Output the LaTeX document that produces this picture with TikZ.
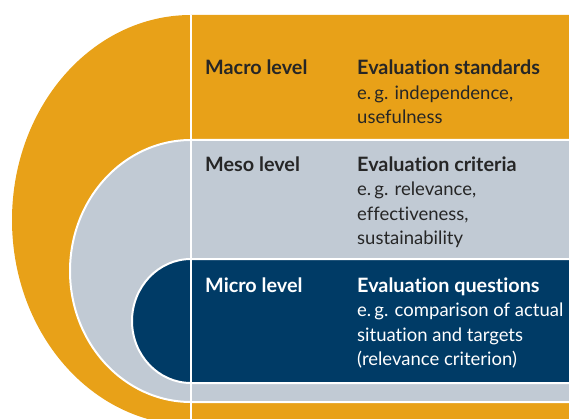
\documentclass[tikz,border=0pt]{standalone}
\usepackage{fontspec}
\setmainfont[Ligatures=NoCommon]{Lato}
\begin{document}
\begin{tikzpicture}[x=1pt,y=1pt,
 lvl/.style={anchor=base west,inner sep=0pt,font=\bfseries\fontsize{19.8}{24.5}\selectfont},
 txt/.style={anchor=base west,inner sep=0pt,align=left,font=\fontsize{18.5}{24.5}\selectfont}]
 \definecolor{macrocolor}{HTML}{E8A118}
 \definecolor{mesocolor}{HTML}{C1CAD4}
 \definecolor{microcolor}{HTML}{003B66}
 \definecolor{inkcolor}{HTML}{262626}
 \useasboundingbox (0,0) rectangle (569,418);
 \clip (0,0) rectangle (569,418);
 % nested bands
 \fill [macrocolor] (580,403) -- (191,403) arc [start angle=90,end angle=270,x radius=179,y radius=205] -- (580,-7) -- cycle;
 \filldraw [fill=mesocolor,draw=white,line width=2pt] (580,278) -- (191,278) arc [start angle=90,end angle=270,x radius=121,y radius=131] -- (580,16) -- cycle;
 \filldraw [fill=microcolor,draw=white,line width=2pt] (580,159) -- (191,159) arc [start angle=90,end angle=270,x radius=59,y radius=62] -- (580,35) -- cycle;
 \draw [white,line width=2pt] (191,403) -- (191,-10);
 % labels (base of a multi-line node is its last line)
 \node [lvl,text=inkcolor] (macro) at (205,343) {Macro level};
 \node [lvl,text=inkcolor] (macrohead) at (357,343) {Evaluation standards};
 \node [txt,text=inkcolor] (macrotext) at (357,294) {e.\,g. independence,\\usefulness};
 \node [lvl,text=inkcolor] (meso) at (205,247) {Meso level};
 \node [lvl,text=inkcolor] (mesohead) at (357,247) {Evaluation criteria};
 \node [txt,text=inkcolor] (mesotext) at (357,173.5) {e.\,g. relevance,\\effectiveness,\\sustainability};
 \node [lvl,text=white] (micro) at (205,126) {Micro level};
 \node [lvl,text=white] (microhead) at (357,126) {Evaluation questions};
 \node [txt,text=white] (microtext) at (357,52.5) {e.\,g. comparison of actual\\situation and targets\\(relevance criterion)};
\end{tikzpicture}
\end{document}
